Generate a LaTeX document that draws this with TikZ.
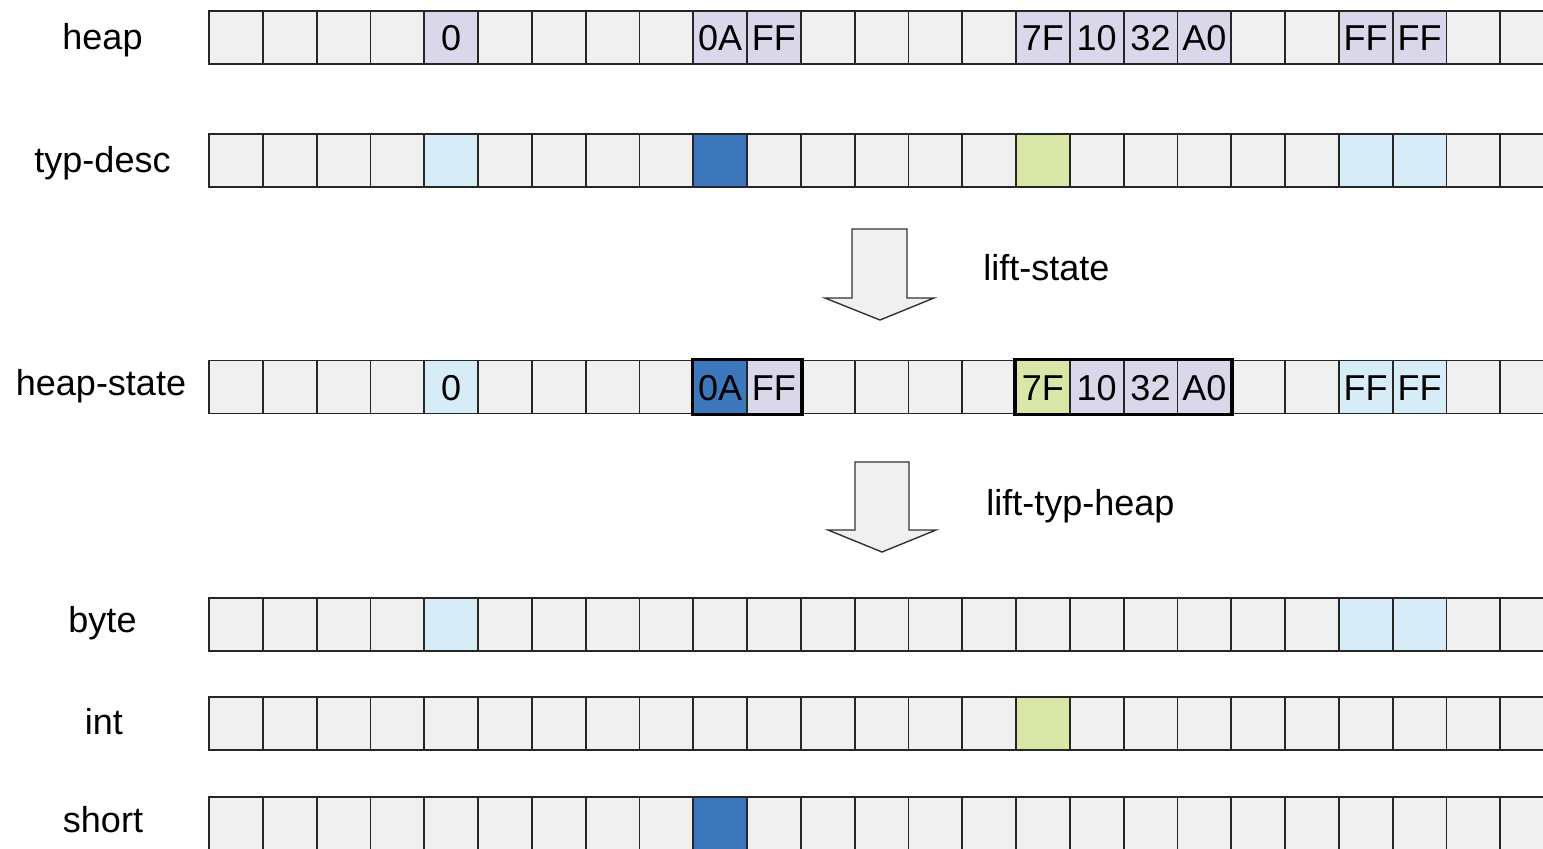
\documentclass[tikz,border=0pt]{standalone}
\usepackage{fontspec}
\setmainfont{Liberation Sans}
\usetikzlibrary{fit}
\definecolor{cellgray}{HTML}{EFF0EF}
\definecolor{lav}{HTML}{D9D7EA}
\definecolor{lblue}{HTML}{D6EDF8}
\definecolor{dblue}{HTML}{3D78BD}
\definecolor{lgreen}{HTML}{D8E6A8}
\begin{document}
\begin{tikzpicture}[x=0.5pt,y=-0.5pt,
  cell/.style={draw=black!85, line width=0.9pt, minimum width=26.9pt, minimum height=26.5pt,
    inner sep=0pt, fill=cellgray, font=\fontsize{18}{20}\selectfont, text depth=0pt, text height=13pt},
  rowlbl/.style={font=\fontsize{18}{20}\selectfont, inner sep=0pt, anchor=base},
  oplbl/.style={font=\fontsize{18}{20}\selectfont, inner sep=0pt, anchor=base west},
  grp/.style={draw=black, line width=1.8pt, inner sep=0pt},
  blockarrow/.style={draw=black!80, line width=0.7pt, fill=cellgray, line join=miter}]
\useasboundingbox (0,0) rectangle (1543,848);
\clip (0,0) rectangle (1543,848);

% gray cells
\foreach \r/\y in {heap/37.5, typ/160.5, hs/387, byte/624.5, int/723.5, short/823.5} {
  \foreach \k in {0,...,24} {
    \node[cell] (\r-\k) at ({209+53.8*\k+26.9},\y) {};
  }
}

% heap row
\foreach \k/\c/\t in {4/lav/0, 9/lav/0A, 10/lav/FF, 15/lav/7F, 16/lav/10, 17/lav/32, 18/lav/A0, 21/lav/FF, 22/lav/FF}
  \node[cell, fill=\c] (heap-\k) at (heap-\k) {\t};

% typ-desc row
\foreach \k/\c in {4/lblue, 9/dblue, 15/lgreen, 21/lblue, 22/lblue}
  \node[cell, fill=\c] (typ-\k) at (typ-\k) {};

% heap-state row
\foreach \k/\c/\t in {4/lblue/0, 9/dblue/0A, 10/lav/FF, 15/lgreen/7F, 16/lav/10, 17/lav/32, 18/lav/A0, 21/lblue/FF, 22/lblue/FF}
  \node[cell, fill=\c] (hs-\k) at (hs-\k) {\t};
\node[grp, fit=(hs-9)(hs-10)] (g1) {};
\node[grp, fit=(hs-15)(hs-18)] (g2) {};

% byte, int, short rows
\foreach \k in {4, 21, 22}
  \node[cell, fill=lblue] (byte-\k) at (byte-\k) {};
\node[cell, fill=lgreen] (int-15) at (int-15) {};
\node[cell, fill=dblue] (short-9) at (short-9) {};

% row labels
\node[rowlbl] (l-heap) at (102.5,49) {heap};
\node[rowlbl] (l-typ) at (102.5,172) {typ-desc};
\node[rowlbl] (l-hs) at (101,395) {heap-state};
\node[rowlbl] (l-byte) at (102.5,632) {byte};
\node[rowlbl] (l-int) at (104,734) {int};
\node[rowlbl] (l-short) at (103,832) {short};

% block arrows
\draw[blockarrow] (852,229) -- (907,229) -- (907,298) -- (934,298) -- (880,320) -- (825,298) -- (852,298) -- cycle;
\draw[blockarrow] (855,462) -- (909,462) -- (909,530) -- (936,530) -- (882,552) -- (828,530) -- (855,530) -- cycle;
\node[oplbl] (op1) at (983,280) {lift-state};
\node[oplbl] (op2) at (986,515) {lift-typ-heap};
\end{tikzpicture}
\end{document}
